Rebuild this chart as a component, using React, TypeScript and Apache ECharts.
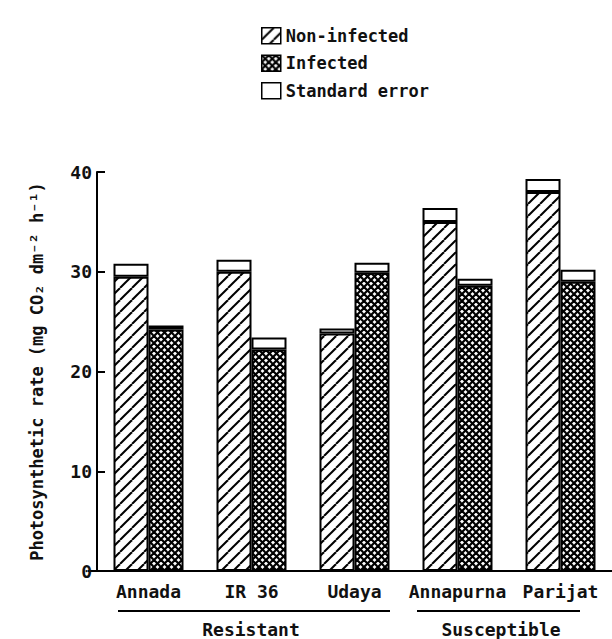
import React, { useEffect, useRef } from "react";
import * as echarts from "echarts";

const categories = ["Annada", "IR 36", "Udaya", "Annapurna", "Parijat"];
const nonInfectedMean = [29.5, 30.0, 23.8, 35.0, 38.0];
const nonInfectedSE = [1.3, 1.2, 0.5, 1.4, 1.3];
const infectedMean = [24.2, 22.2, 29.9, 28.6, 29.0];
const infectedSE = [0.4, 1.2, 1.0, 0.7, 1.2];
const yTicks = [0, 10, 20, 30, 40];
const groupLabels = ["Resistant", "Susceptible"];

const FONT = "DejaVu Sans Mono";

function makePattern(kind: "diag" | "cross") {
  const size = kind === "diag" ? 12 : 7;
  const c = document.createElement("canvas");
  c.width = size;
  c.height = size;
  const ctx = c.getContext("2d")!;
  ctx.fillStyle = "#fff";
  ctx.fillRect(0, 0, size, size);
  ctx.strokeStyle = "#000";
  ctx.lineWidth = kind === "diag" ? 2 : 2.2;
  const drawDiag = (dir: number) => {
    for (let k = -1; k <= 1; k++) {
      ctx.beginPath();
      if (dir > 0) {
        ctx.moveTo(k * size, size);
        ctx.lineTo(k * size + size, 0);
      } else {
        ctx.moveTo(k * size, 0);
        ctx.lineTo(k * size + size, size);
      }
      ctx.stroke();
    }
  };
  drawDiag(1);
  if (kind === "cross") drawDiag(-1);
  return {
    image: c,
    repeat: "repeat",
    imageWidth: size,
    imageHeight: size,
  } as any;
}

export default function App() {
  const ref = useRef<HTMLDivElement>(null);
  useEffect(() => {
    if (!ref.current) return;
    const chart = echarts.init(ref.current, undefined, { renderer: "svg" });
    const diag = makePattern("diag");
    const cross = makePattern("cross");
    const border = { borderColor: "#000", borderWidth: 2 };
    const txt = { fontFamily: FONT, fontWeight: "bold", color: "#111" };
    const option: any = {
      animation: false,
      backgroundColor: "#fff",
      textStyle: { fontFamily: FONT },
      legend: {
        orient: "vertical",
        left: 256,
        top: 22,
        itemWidth: 19,
        itemHeight: 16,
        itemGap: 10,
        icon: "rect",
        selectedMode: false,
        data: ["Non-infected", "Infected", "Standard error"],
        itemStyle: { borderColor: "#000", borderWidth: 1.5 },
        textStyle: { ...txt, fontSize: 17, padding: [0, 0, 0, 0] },
      },
      grid: { left: 97, top: 172, width: 523, height: 399 },
      xAxis: {
        type: "category",
        data: categories,
        axisLine: { show: true, lineStyle: { color: "#000", width: 2 } },
        axisTick: { show: false },
        axisLabel: { ...txt, fontSize: 18, margin: 11, interval: 0, hideOverlap: false },
      },
      yAxis: {
        type: "value",
        min: yTicks[0],
        max: yTicks[yTicks.length - 1],
        interval: 10,
        name: "Photosynthetic rate (mg CO₂ dm⁻² h⁻¹)",
        nameLocation: "middle",
        nameRotate: 90,
        nameGap: 52,
        nameTextStyle: { ...txt, fontSize: 17 },
        axisLine: { show: true, lineStyle: { color: "#000", width: 2 } },
        axisTick: { show: true, inside: true, length: 8, lineStyle: { color: "#000", width: 2 } },
        axisLabel: { ...txt, fontSize: 18, margin: 5 },
        splitLine: { show: false },
      },
      series: [
        {
          name: "Non-infected",
          type: "bar",
          stack: "non",
          barWidth: 35,
          barGap: "0%",
          data: nonInfectedMean,
          itemStyle: { color: diag, ...border },
        },
        {
          name: "Standard error",
          type: "bar",
          stack: "non",
          barWidth: 35,
          barGap: "0%",
          data: nonInfectedSE,
          itemStyle: { color: "#fff", ...border },
        },
        {
          name: "Infected",
          type: "bar",
          stack: "inf",
          barWidth: 35,
          barGap: "0%",
          data: infectedMean,
          itemStyle: { color: cross, ...border },
        },
        {
          name: "Standard error",
          type: "bar",
          stack: "inf",
          barWidth: 35,
          barGap: "0%",
          data: infectedSE,
          itemStyle: { color: "#fff", ...border },
        },
      ],
      graphic: [
        {
          type: "line",
          shape: { x1: 88, y1: 571, x2: 97, y2: 571 },
          style: { stroke: "#000", lineWidth: 2 },
        },
        {
          type: "line",
          shape: { x1: 118, y1: 611, x2: 390, y2: 611 },
          style: { stroke: "#000", lineWidth: 2 },
        },
        {
          type: "line",
          shape: { x1: 417, y1: 611, x2: 580, y2: 611 },
          style: { stroke: "#000", lineWidth: 2 },
        },
        {
          type: "text",
          x: 251,
          y: 629,
          style: {
            text: groupLabels[0],
            fontSize: 18,
            fontWeight: "bold",
            fontFamily: FONT,
            fill: "#111",
            align: "center",
            verticalAlign: "middle",
          },
        },
        {
          type: "text",
          x: 501,
          y: 629,
          style: {
            text: groupLabels[1],
            fontSize: 18,
            fontWeight: "bold",
            fontFamily: FONT,
            fill: "#111",
            align: "center",
            verticalAlign: "middle",
          },
        },
      ],
    };
    chart.setOption(option);
    return () => chart.dispose();
  }, []);
  return (
    <div
      ref={ref}
      style={{ position: "absolute", left: 0, top: 0, width: 612, height: 639, overflow: "hidden" }}
    />
  );
}
